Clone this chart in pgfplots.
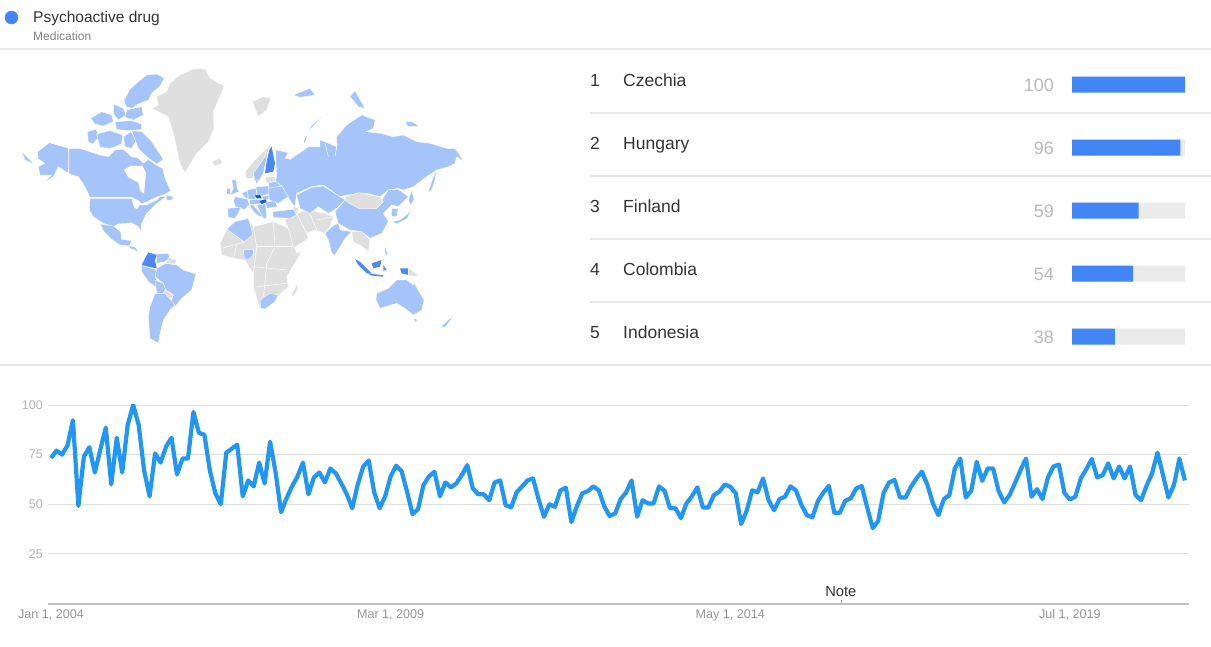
\documentclass[border=0pt]{standalone}
\usepackage{fontspec}
\setmainfont{Liberation Sans}
\usepackage{pgfplots}
\pgfplotsset{compat=1.18}
\definecolor{gblue}{HTML}{4285F4}
\definecolor{lineblue}{HTML}{2196F3}
\definecolor{landlt}{HTML}{A4C4FA}
\definecolor{landgr}{HTML}{DFDFDF}
\definecolor{landmd}{HTML}{4E88F2}
\definecolor{landdk}{HTML}{1A56D6}
\definecolor{sep}{HTML}{E8E8E8}
\definecolor{txt}{HTML}{333333}
\newcommand{\fs}[1]{\fontsize{#1}{#1}\selectfont}
\pgfplotsset{
  lt/.style={fill=landlt,draw=white,line width=0.35pt,no marks},
  gr/.style={fill=landgr,draw=white,line width=0.35pt,no marks},
  md/.style={fill=landmd,draw=none,no marks},
  dk/.style={fill=landdk,draw=none,no marks},
  wh/.style={fill=white,draw=none,no marks},
  bd/.style={draw=white,line width=0.5pt,no marks},
}
\begin{document}
\begin{tikzpicture}
\path[use as bounding box] (0,0) rectangle (1211pt,646pt);

% world map
\begin{axis}[at={(0pt,286pt)},anchor=south west,scale only axis,width=480pt,height=360pt,
  xmin=0,xmax=1440,ymin=0,ymax=1080,y dir=reverse,hide axis]
% Greenland, Iceland, Svalbard
\addplot[gr] coordinates {(455,325) (475,315) (470,290) (500,275) (510,250) (540,225) (580,207) (615,207) (630,235) (672,258) (660,290) (640,335) (642,385) (625,425) (590,460) (555,518) (540,490) (520,400) (505,350)} --cycle;
\addplot[gr] coordinates {(635,485) (660,475) (667,490) (645,498)} --cycle;
\addplot[gr] coordinates {(757,305) (790,290) (812,295) (800,330) (775,350) (765,325)} --cycle;
% Alaska, Canada
\addplot[lt] coordinates {(113,455) (148,428) (206,445) (206,520) (175,500) (160,530) (130,550) (155,525) (120,525) (115,500) (135,490) (113,475)} --cycle;
\addplot[lt] coordinates {(65,455) (90,480) (100,492) (75,480)} --cycle;
\addplot[lt] coordinates {(207,445) (240,445) (270,455) (300,465) (325,470) (345,450) (370,448) (395,470) (415,475) (430,490) (445,478) (468,495) (488,505) (495,535) (512,572) (497,582) (472,590) (452,600) (425,612) (415,602) (395,592) (270,592) (255,560) (235,530) (207,522)} --cycle;
\addplot[wh] coordinates {(372,510) (392,497) (428,498) (438,520) (432,582) (420,572) (415,548) (385,532)} --cycle;
\addplot[lt] coordinates {(372,300) (390,268) (415,245) (440,225) (470,222) (493,235) (480,258) (455,280) (445,300) (415,312) (395,325) (378,320)} --cycle;
\addplot[lt] coordinates {(340,312) (370,325) (378,345) (355,360) (340,340)} --cycle;
\addplot[lt] coordinates {(380,330) (425,320) (430,345) (400,360) (375,352)} --cycle;
\addplot[lt] coordinates {(272,355) (305,335) (335,345) (340,365) (310,378) (285,372)} --cycle;
\addplot[lt] coordinates {(345,365) (395,362) (425,372) (425,388) (385,392) (350,388)} --cycle;
\addplot[lt] coordinates {(262,395) (288,388) (298,410) (278,432) (265,425)} --cycle;
\addplot[lt] coordinates {(290,402) (330,392) (368,405) (365,432) (330,445) (300,442)} --cycle;
\addplot[lt] coordinates {(370,410) (392,395) (410,420) (395,445) (375,440)} --cycle;
\addplot[lt] coordinates {(395,392) (425,395) (455,425) (490,478) (470,492) (440,470) (415,445)} --cycle;
\addplot[lt] coordinates {(495,585) (520,590) (515,600) (500,600)} --cycle;
% USA, Mexico, Central America
\addplot[lt] coordinates {(270,595) (395,595) (410,615) (440,615) (470,600) (480,590) (500,590) (470,610) (440,640) (425,670) (425,695) (415,680) (395,668) (355,672) (340,680) (310,670) (280,650) (268,630)} --cycle;
\addplot[wh] coordinates {(395,600) (412,604) (420,612) (412,628) (402,622)} --cycle;
\addplot[lt] coordinates {(300,672) (340,678) (362,695) (365,718) (395,722) (388,738) (360,735) (335,718) (312,695)} --cycle;
\addplot[lt] coordinates {(385,738) (405,740) (420,760) (405,750) (390,745)} --cycle;
% South America
\addplot[lt] coordinates {(470,805) (497,790) (530,795) (550,810) (588,822) (575,870) (545,895) (525,920) (510,915) (520,885) (495,870) (490,850) (465,830)} --cycle;
\addplot[lt] coordinates {(470,762) (505,760) (510,775) (495,785) (470,790)} --cycle;
\addplot[gr] coordinates {(507,772) (530,780) (525,792) (497,790)} --cycle;
\addplot[lt] coordinates {(425,797) (445,802) (470,810) (465,830) (480,860) (465,860) (445,845) (425,815)} --cycle;
\addplot[lt] coordinates {(465,840) (490,850) (497,870) (515,880) (495,880) (470,880)} --cycle;
\addplot[gr] coordinates {(495,870) (520,885) (510,900) (490,880)} --cycle;
\addplot[lt] coordinates {(465,880) (495,880) (525,915) (510,930) (490,960) (480,1000) (475,1030) (450,1015) (445,950) (450,920)} --cycle;
\addplot[md] coordinates {(445,757) (470,765) (465,780) (470,805) (445,800) (425,795) (435,775)} --cycle;
% Africa
\addplot[gr] coordinates {(660,730) (680,690) (700,670) (745,660) (760,680) (820,665) (855,680) (870,690) (890,760) (905,755) (860,830) (865,860) (830,890) (810,920) (780,925) (760,860) (760,820) (735,780) (700,775) (665,765)} --cycle;
\addplot[gr] coordinates {(875,885) (895,845) (890,875) (880,890)} --cycle;
\addplot[bd] coordinates {(760,680) (770,740) (760,820)};
\addplot[bd] coordinates {(820,665) (825,740) (800,790) (790,900)};
\addplot[bd] coordinates {(770,740) (880,740)};
\addplot[bd] coordinates {(665,745) (735,725)};
\addplot[bd] coordinates {(700,775) (710,735)};
\addplot[bd] coordinates {(760,800) (860,810)};
\addplot[bd] coordinates {(770,860) (860,850)};
\addplot[lt] coordinates {(680,688) (705,665) (745,655) (755,690) (757,705) (733,725)} --cycle;
\addplot[lt] coordinates {(730,750) (760,748) (760,765) (745,778) (733,775)} --cycle;
\addplot[lt] coordinates {(780,900) (810,880) (835,885) (825,905) (795,927) (783,925)} --cycle;
% Middle East, Central and South-East Asia
\addplot[gr] coordinates {(855,660) (890,640) (925,630) (975,640) (1000,650) (990,680) (975,700) (945,690) (920,700) (925,715) (880,745) (870,700)} --cycle;
\addplot[bd] coordinates {(890,640) (920,700)};
\addplot[bd] coordinates {(925,630) (950,690)};
\addplot[bd] coordinates {(950,660) (1000,650)};
\addplot[gr] coordinates {(880,620) (895,625) (890,645) (875,640)} --cycle;
\addplot[gr] coordinates {(1055,695) (1085,695) (1110,720) (1105,755) (1080,735) (1060,725)} --cycle;
% Russia and neighbours
\addplot[lt] coordinates {(828,450) (865,458) (855,475) (872,478) (885,468) (905,455) (925,440) (960,440) (960,420) (985,430) (1010,440) (1010,410) (1040,375) (1085,345) (1125,360) (1120,385) (1100,395) (1140,400) (1180,410) (1210,405) (1250,425) (1290,430) (1340,445) (1365,445) (1392,485) (1370,470) (1365,490) (1345,500) (1310,510) (1280,530) (1240,560) (1210,570) (1195,565) (1165,570) (1140,590) (1100,580) (1040,585) (1020,590) (970,555) (935,560) (890,580) (885,620) (880,615) (862,588) (845,558) (825,558) (830,525) (828,490)} --cycle;
\addplot[bd] coordinates {(985,470) (975,430)};
\addplot[bd] coordinates {(1005,470) (1012,430)};
\addplot[lt] coordinates {(910,425) (935,375) (965,350) (925,395) (915,430)} --cycle;
\addplot[lt] coordinates {(1285,575) (1300,530) (1310,510) (1305,540) (1295,570)} --cycle;
\addplot[lt] coordinates {(1050,290) (1065,272) (1095,325) (1075,320)} --cycle;
\addplot[lt] coordinates {(1215,365) (1235,365) (1260,380) (1225,380)} --cycle;
\addplot[lt] coordinates {(880,285) (930,265) (945,285) (900,292)} --cycle;
\addplot[lt] coordinates {(890,585) (935,562) (970,558) (1020,590) (1035,600) (1010,625) (985,640) (955,620) (930,640) (900,625)} --cycle;
\addplot[lt] coordinates {(1005,635) (1035,600) (1075,620) (1130,625) (1165,570) (1195,568) (1225,590) (1195,620) (1175,615) (1150,640) (1165,665) (1145,700) (1110,715) (1085,695) (1050,690) (1015,670)} --cycle;
\addplot[gr] coordinates {(1035,590) (1075,578) (1110,585) (1140,590) (1150,605) (1130,625) (1075,625) (1040,605)} --cycle;
\addplot[lt] coordinates {(1175,625) (1195,625) (1190,650) (1175,650)} --cycle;
\addplot[lt] coordinates {(1175,665) (1200,660) (1225,640) (1240,620) (1222,655) (1190,672)} --cycle;
\addplot[lt] coordinates {(1225,600) (1235,570) (1242,600) (1232,615)} --cycle;
\addplot[lt] coordinates {(975,700) (995,680) (1015,670) (1020,690) (1055,695) (1035,715) (1005,765) (995,760) (985,720)} --cycle;
% Indonesia, Philippines, Oceania
\addplot[md] coordinates {(1065,778) (1080,785) (1115,820) (1100,820) (1075,795)} --cycle;
\addplot[md] coordinates {(1105,820) (1150,826) (1148,830) (1110,826)} --cycle;
\addplot[md] coordinates {(1115,790) (1145,780) (1140,800) (1120,805)} --cycle;
\addplot[md] coordinates {(1150,795) (1160,810) (1150,812)} --cycle;
\addplot[md] coordinates {(1200,805) (1225,805) (1225,825) (1205,820)} --cycle;
\addplot[gr] coordinates {(1225,805) (1255,825) (1245,830) (1225,825)} --cycle;
\addplot[lt] coordinates {(1155,735) (1165,770) (1155,760)} --cycle;
\addplot[lt] coordinates {(1130,880) (1165,865) (1190,840) (1220,840) (1240,855) (1240,845) (1272,900) (1265,930) (1240,945) (1215,925) (1190,910) (1140,925) (1128,900)} --cycle;
\addplot[lt] coordinates {(1322,980) (1345,960) (1362,945) (1352,960) (1335,982)} --cycle;
\addplot[lt] coordinates {(1240,955) (1252,958) (1247,968)} --cycle;
% Europe
\addplot[gr] coordinates {(738,535) (735,515) (765,480) (805,440) (815,435) (795,470) (762,520) (758,535)} --cycle;
\addplot[lt] coordinates {(765,545) (760,520) (795,470) (805,450) (798,482) (790,520) (775,545)} --cycle;
\addplot[gr] coordinates {(795,530) (825,530) (828,545) (800,548)} --cycle;
\addplot[lt] coordinates {(805,548) (828,545) (845,558) (808,565)} --cycle;
\addplot[lt] coordinates {(695,540) (708,540) (712,565) (718,575) (690,585) (700,565)} --cycle;
\addplot[lt] coordinates {(680,565) (692,565) (690,582) (680,582)} --cycle;
\addplot[lt] coordinates {(705,590) (742,597) (748,612) (735,628) (708,622) (700,605)} --cycle;
\addplot[lt] coordinates {(683,625) (722,622) (715,640) (705,655) (685,652)} --cycle;
\addplot[lt] coordinates {(725,580) (742,572) (745,595) (735,593)} --cycle;
\addplot[lt] coordinates {(742,570) (768,565) (770,585) (765,598) (745,598)} --cycle;
\addplot[lt] coordinates {(765,540) (775,540) (770,555)} --cycle;
\addplot[lt] coordinates {(768,560) (805,558) (808,582) (785,588) (770,585)} --cycle;
\addplot[lt] coordinates {(785,590) (808,585) (805,598) (790,600)} --cycle;
\addplot[lt] coordinates {(748,600) (775,598) (792,605) (775,612) (750,612)} --cycle;
\addplot[lt] coordinates {(748,613) (760,615) (790,650) (778,650) (760,635)} --cycle;
\addplot[lt] coordinates {(770,615) (797,612) (800,655) (790,655)} --cycle;
\addplot[lt] coordinates {(806,565) (845,558) (865,590) (835,610) (808,600)} --cycle;
\addplot[lt] coordinates {(797,605) (825,603) (832,620) (800,625)} --cycle;
\addplot[lt] coordinates {(818,635) (880,628) (890,645) (870,655) (820,652)} --cycle;
\addplot[md] coordinates {(815,440) (825,490) (820,515) (795,520) (800,485) (808,450)} --cycle;
\addplot[dk] coordinates {(765,585) (780,585) (785,595) (770,595)} --cycle;
\addplot[dk] coordinates {(778,603) (797,598) (800,606) (785,612)} --cycle;
\end{axis}

% top five regions
\begin{axis}[at={(1072pt,278pt)},anchor=south west,scale only axis,width=113pt,height=315pt,
  xmin=0,xmax=100,ymin=0.5,ymax=5.5,y dir=reverse,
  hide x axis,xbar,bar width=16pt,
  y axis line style={draw=none},major tick length=0pt,
  ytick={1,2,3,4,5},yticklabels={100,96,59,54,38},
  yticklabel style={font=\fs{18},text=black!27,inner sep=0pt,xshift=-18pt,yshift=-1pt},
]
\addplot[fill=black!8,draw=none,bar shift=0pt] coordinates {(100,1) (100,2) (100,3) (100,4) (100,5)};
\addplot[fill=gblue,draw=none,bar shift=0pt] coordinates {(100,1) (96,2) (59,3) (54,4) (38,5)};
\end{axis}

% interest over time
\begin{axis}[at={(48pt,42.5pt)},anchor=south west,scale only axis,width=1141pt,height=198.5pt,
  xmin=-0.55,xmax=207.75,ymin=0,ymax=100,
  axis x line=bottom,axis y line=left,axis line style={draw=none,-},
  major tick length=0pt,
  ytick={25,50,75,100},ymajorgrids,grid style={draw=black!12,line width=0.9pt},
  xtick={0,62,124,186},xticklabels={{Jan 1, 2004},{Mar 1, 2009},{May 1, 2014},{Jul 1, 2019}},
  /pgf/number format/assume math mode=true,
  yticklabel style={font=\fs{12.6},text=black!30,inner sep=0pt,xshift=-5pt},
  xticklabel style={font=\fs{12.6},text=black!42,inner sep=0pt,yshift=-6pt},
]
\addplot[lineblue,line width=4.2pt,line join=round,no marks] coordinates {
(0,73.3) (1,77) (2,75) (3,79.5) (4,92.3) (5,49.2) (6,74) (7,78.7) (8,66) (9,77.5)
(10,88.6) (11,60) (12,83.5) (13,66) (14,90) (15,100) (16,90) (17,67) (18,54) (19,75.6)
(20,71) (21,79) (22,83.5) (23,65) (24,73) (25,73) (26,96.5) (27,86) (28,85) (29,67)
(30,55.5) (31,50) (32,76) (33,78) (34,80) (35,54) (36,62) (37,59) (38,71) (39,60.5)
(40,81.5) (41,66) (42,46) (43,53) (44,59) (45,64) (46,71) (47,55) (48,63.5) (49,66)
(50,61) (51,68) (52,65.5) (53,60.5) (54,55) (55,48) (56,60) (57,69) (58,72) (59,56)
(60,48) (61,54) (62,64) (63,69.4) (64,66.7) (65,56.3) (66,45) (67,47.5) (68,59.7) (69,64)
(70,66.4) (71,54) (72,61) (73,58.5) (74,60.5) (75,64.7) (76,69.7) (77,58) (78,55) (79,55)
(80,52) (81,61) (82,62) (83,49.6) (84,48.4) (85,56) (86,59) (87,62) (88,63) (89,52.6)
(90,43.7) (91,50) (92,48.7) (93,57) (94,58.3) (95,41) (96,49) (97,55.5) (98,56.6) (99,59)
(100,57) (101,49) (102,44) (103,45.4) (104,52.6) (105,56) (106,62) (107,43.7) (108,52) (109,50.4)
(110,50.4) (111,59) (112,56.8) (113,48) (114,48) (115,43) (116,50.4) (117,54) (118,58.5) (119,48.4)
(120,48.4) (121,54.6) (122,56.3) (123,60) (124,58.8) (125,55.5) (126,40) (127,46.7) (128,57) (129,56)
(130,63) (131,52) (132,47) (133,52.6) (134,53.8) (135,59) (136,57) (137,49.6) (138,44.5) (139,43.4)
(140,51.6) (141,55.8) (142,59.3) (143,45.7) (144,45.7) (145,51.8) (146,53) (147,58) (148,59.2) (149,48.4)
(150,38) (151,41.5) (152,55.8) (153,61) (154,62.2) (155,53.4) (156,53.4) (157,58.8) (158,63) (159,66.4)
(160,59.7) (161,50.4) (162,44.5) (163,52.6) (164,54.6) (165,68) (166,73) (167,53.4) (168,56.8) (169,71.4)
(170,61.8) (171,68) (172,68) (173,56.6) (174,51) (175,54.6) (176,60.8) (177,67.2) (178,73) (179,53.8)
(180,57.6) (181,52.6) (182,63.5) (183,69) (184,70) (185,55.8) (186,52.4) (187,53.8) (188,63) (189,67.6)
(190,72.8) (191,63.5) (192,64.7) (193,70.6) (194,63) (195,69) (196,63) (197,69) (198,54.6) (199,52)
(200,59.3) (201,65.5) (202,76) (203,64.7) (204,53.4) (205,59.7) (206,73) (207,62)};
% annotation marker
\addplot[black!45,line width=0.6pt,no marks] coordinates {(144.2,0) (144.2,2)};
\node[anchor=base,inner sep=0pt,txt] at (axis cs:144.2,3.5) {\fs{14.7}Note};
\end{axis}

% page frame: separators, header and list text, in pixel coordinates
\begin{axis}[at={(0pt,0pt)},anchor=south west,scale only axis,width=1211pt,height=646pt,
  xmin=0,xmax=1211,ymin=0,ymax=646,y dir=reverse,hide axis]
\addplot[sep,line width=1.2pt,no marks] coordinates {(0,49) (1211,49)};
\addplot[sep,line width=1.2pt,no marks] coordinates {(0,365) (1211,365)};
\addplot[sep,line width=1.2pt,no marks] coordinates {(590,113) (1211,113)};
\addplot[sep,line width=1.2pt,no marks] coordinates {(590,176) (1211,176)};
\addplot[sep,line width=1.2pt,no marks] coordinates {(590,239) (1211,239)};
\addplot[sep,line width=1.2pt,no marks] coordinates {(590,302) (1211,302)};
\addplot[black!25,line width=2pt,no marks] coordinates {(48,603.5) (1189,603.5)};
\addplot[only marks,mark=*,mark size=6.5pt,gblue] coordinates {(11.5,17.5)};
\node[anchor=base west,inner sep=0pt,txt] at (axis cs:33,22.3) {\fs{15.5}Psychoactive drug};
\node[anchor=base west,inner sep=0pt,black!50] at (axis cs:33,40) {\fs{12}Medication};
\node[anchor=base west,inner sep=0pt,txt] at (axis cs:590,86.3) {\fs{17.5}1};
\node[anchor=base west,inner sep=0pt,txt] at (axis cs:590,149.3) {\fs{17.5}2};
\node[anchor=base west,inner sep=0pt,txt] at (axis cs:590,212.3) {\fs{17.5}3};
\node[anchor=base west,inner sep=0pt,txt] at (axis cs:590,275.3) {\fs{17.5}4};
\node[anchor=base west,inner sep=0pt,txt] at (axis cs:590,338.3) {\fs{17.5}5};
\node[anchor=base west,inner sep=0pt,txt] at (axis cs:623,86.3) {\fs{17.5}Czechia};
\node[anchor=base west,inner sep=0pt,txt] at (axis cs:623,149.3) {\fs{17.5}Hungary};
\node[anchor=base west,inner sep=0pt,txt] at (axis cs:623,212.3) {\fs{17.5}Finland};
\node[anchor=base west,inner sep=0pt,txt] at (axis cs:623,275.3) {\fs{17.5}Colombia};
\node[anchor=base west,inner sep=0pt,txt] at (axis cs:623,338.3) {\fs{17.5}Indonesia};
\end{axis}
\end{tikzpicture}
\end{document}
